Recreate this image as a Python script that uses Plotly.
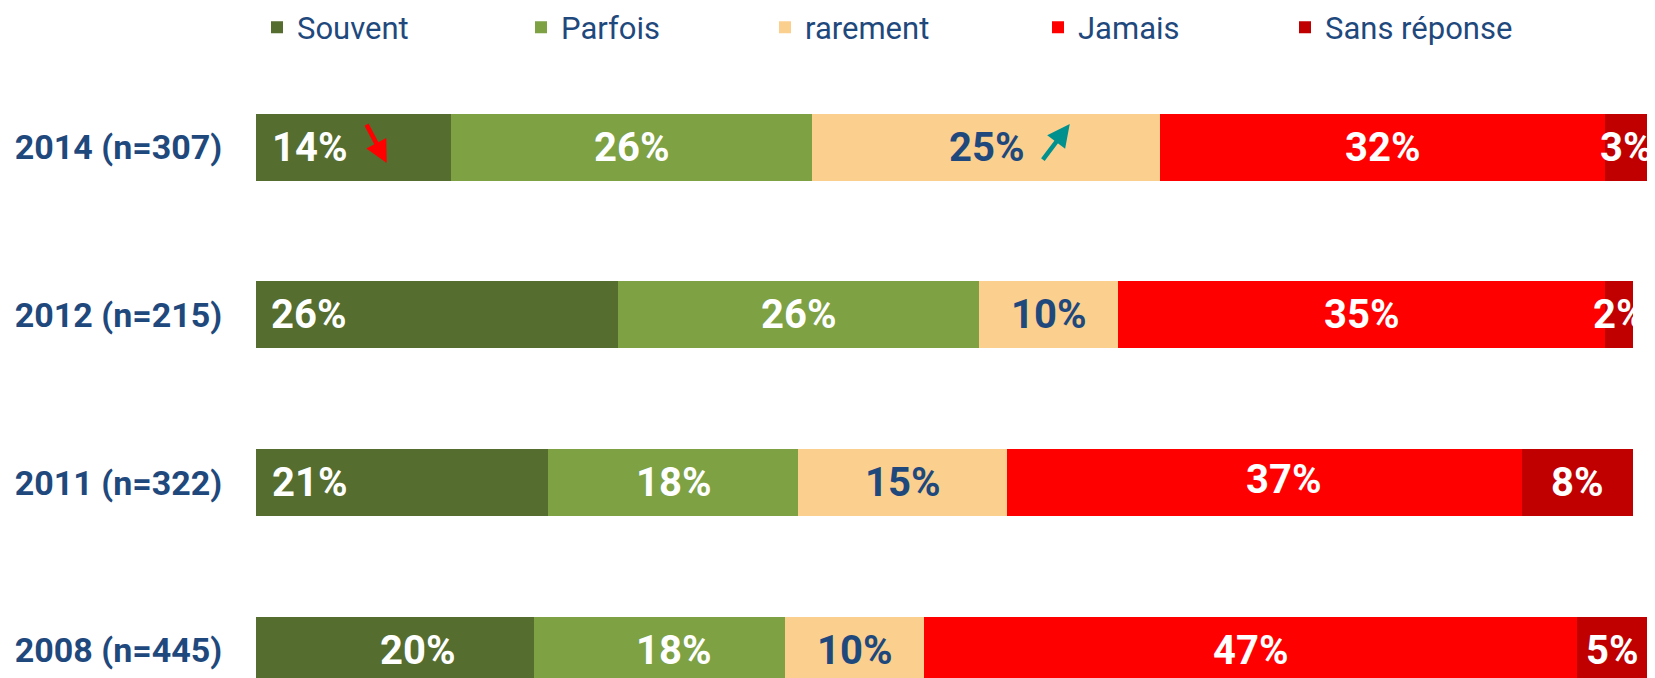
import plotly.graph_objects as go

# ---- data ----
years = ['2014 (n=307)', '2012 (n=215)', '2011 (n=322)', '2008 (n=445)']
series_names = ['Souvent', 'Parfois', 'rarement', 'Jamais', 'Sans réponse']
souvent = [14, 26, 21, 20]
parfois = [26, 26, 18, 18]
rarement = [25, 10, 15, 10]
jamais = [32, 35, 37, 47]
sans_reponse = [3, 2, 8, 5]

# ---- styles ----
colors = ['#556D2E', '#7DA143', '#FBD08E', '#FF0000', '#C00000']
label_colors = ['white', 'white', '#1F497D', 'white', 'white']
NAVY = '#1F497D'
FONT = 'Roboto'

# pixel nudges for some value labels (series index, year index) -> (dx, dy)
label_nudge = {(0, 0): (-44, 0), (0, 1): (-128, 0), (0, 2): (-93, 0),
               (3, 2): (19, 3), (0, 3): (22, 0), (1, 3): (14, 0)}
# legend item positions (window x of text start, px)
legend_text_x = [297, 561, 805, 1078, 1325]

values = [souvent, parfois, rarement, jamais, sans_reponse]

# page body has an 8px margin: size the figure so it fills the 1655x678 window
OFF = 8
W, H = 1655 - OFF, 678 - OFF
fig = go.Figure()
for i, (name, vals) in enumerate(zip(series_names, values)):
    lg = 'legend' if i == 0 else f'legend{i+1}'
    fig.add_trace(go.Bar(
        y=years, x=vals, name=name, orientation='h',
        marker=dict(color=colors[i], line=dict(width=0)),
        legend=lg, hoverinfo='skip'))

# value labels
annotations = []
for yi, yr in enumerate(years):
    cum = 0
    for si, vals in enumerate(values):
        v = vals[yi]
        dx, dy = label_nudge.get((si, yi), (0, 0))
        annotations.append(dict(
            x=cum + v / 2, y=yr, xref='x', yref='y', text=f'{v}%',
            showarrow=False, xshift=dx, yshift=dy,
            font=dict(family=FONT, size=40, color=label_colors[si], weight='bold')))
        cum += v

# trend arrows on 2014
annotations.append(dict(x=9.4, y=years[0], xref='x', yref='y', text='',
                        showarrow=True, ax=-21, ay=-40, yshift=-16,
                        arrowcolor='#FF0000', arrowwidth=4.5, arrowhead=2, arrowsize=1))
annotations.append(dict(x=58.5, y=years[0], xref='x', yref='y', text='',
                        showarrow=True, ax=-28, ay=37, yshift=23,
                        arrowcolor='#00918F', arrowwidth=4.5, arrowhead=2, arrowsize=1))

legends = {}
for i, tx in enumerate(legend_text_x):
    key = 'legend' if i == 0 else f'legend{i+1}'
    legends[key] = dict(
        x=(tx - OFF - 40) / W, y=1 - (27.5 - OFF) / H,
        xref='container', yref='container',
        xanchor='left', yanchor='middle', orientation='h',
        bgcolor='rgba(0,0,0,0)', borderwidth=0,
        font=dict(family=FONT, size=31, color=NAVY))

fig.update_layout(
    width=W, height=H, barmode='stack', bargap=0.6,
    plot_bgcolor='white', paper_bgcolor='white',
    margin=dict(l=256 - OFF, r=8, t=60 - OFF, b=0, pad=0, autoexpand=False),
    showlegend=True,
    xaxis=dict(range=[0, 100], showticklabels=False, showgrid=False,
               zeroline=False, showline=False, ticks='', automargin=False),
    yaxis=dict(categoryorder='array', categoryarray=years[::-1],
               range=[-0.164, 3.519], showgrid=False, zeroline=False,
               showline=False, ticks='outside', ticklen=26, automargin=False,
               tickcolor='rgba(0,0,0,0)',
               tickfont=dict(family=FONT, size=34, color=NAVY, weight='bold')),
    annotations=annotations,
    **legends,
)

fig.write_html('out.html')
